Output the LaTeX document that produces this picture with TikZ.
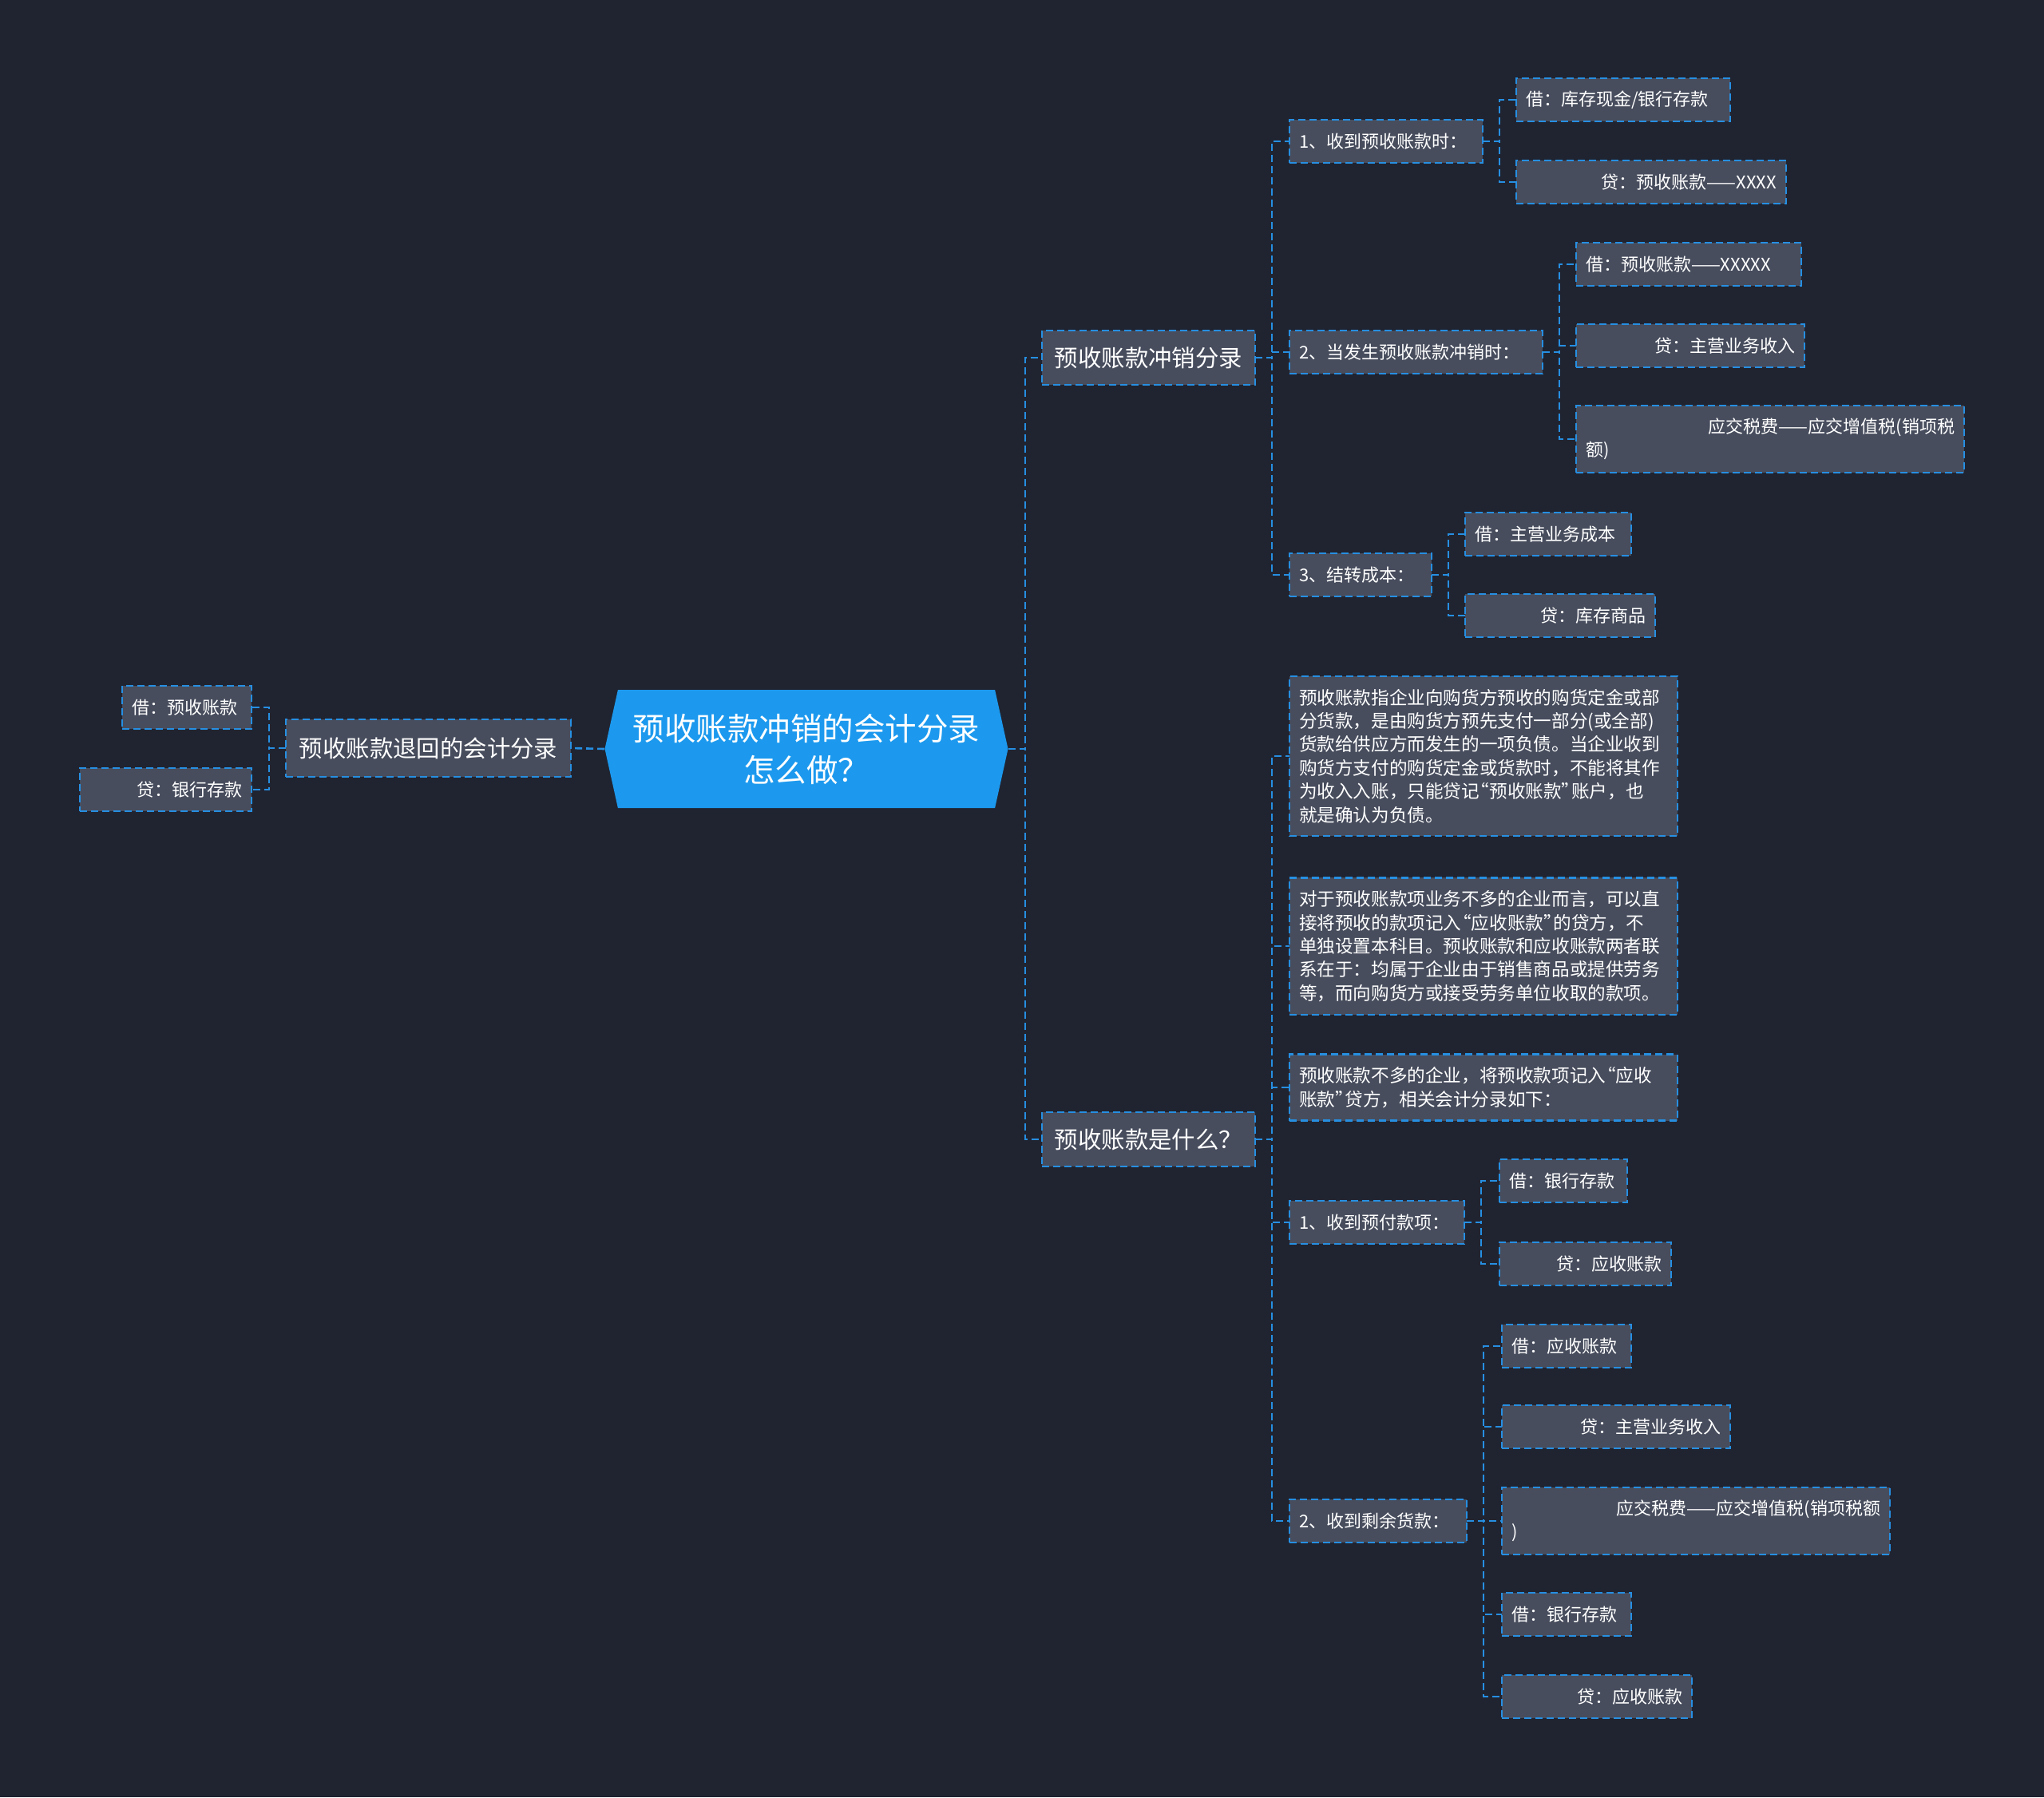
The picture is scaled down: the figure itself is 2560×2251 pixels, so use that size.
\documentclass[tikz,border=0pt]{standalone}
\usepackage{fontspec}
\setmainfont{Noto Sans CJK SC}
\usepackage{xcolor}
\definecolor{mapbg}{RGB}{32,36,49}
\definecolor{mapbox}{RGB}{71,77,93}
\definecolor{mapline}{RGB}{38,143,226}
\definecolor{mapmain}{RGB}{28,153,238}
\usepackage{tikz}
\usetikzlibrary{shapes.symbols}
% tight quote marks
\newcommand{\oq}{\kern-.45em“}
\newcommand{\cq}{”\kern-.45em}

\begin{document}
\begin{tikzpicture}[
  x=0.5pt, y=-0.5pt,
  mainnode/.style={signal, signal to=west and east, signal pointer angle=155,
                   fill=mapmain, text=white, minimum width=252.5pt, minimum height=74pt,
                   inner sep=0pt, align=center, font=\fontsize{19.75pt}{26pt}\selectfont},
  topic/.style={rectangle, draw=mapline, dash pattern=on 4.5pt off 2.5pt, line width=1.1pt,
                fill=mapbox, text=white, inner xsep=6pt, inner ysep=0pt, outer sep=0pt,
                minimum height=34pt, align=center, font=\fontsize{14.7pt}{18pt}\selectfont},
  leaf/.style={topic, minimum height=27pt, align=left, font=\fontsize{11pt}{14.7pt}\selectfont},
  credit/.style={leaf, align=right},
  para/.style={leaf, inner ysep=8pt, font=\fontsize{11.3pt}{14.7pt}\selectfont},
  link/.style={draw=mapline, dash pattern=on 4.5pt off 2.5pt, line width=1.3pt}
]
\fill[mapbg] (0,0) rectangle (2560,2251);

\node[mainnode] (main) at (1010,938) {预收账款冲销的会计分录\\怎么做？};

% left side
\node[topic, anchor=west, text width=166.5pt, minimum height=36pt] (ret) at (358,937) {预收账款退回的会计分录};
\node[leaf, anchor=east, text width=69pt] (retd) at (315,886) {借：预收账款};
\node[credit, anchor=east, text width=95.5pt] (retc) at (315,989) {贷：银行存款};

% right side
\node[topic, anchor=west, text width=121.5pt] (wo) at (1305,448) {预收账款冲销分录};
\node[topic, anchor=west, text width=121.5pt] (what) at (1305,1427) {预收账款是什么？};

\node[leaf, anchor=west, text width=109pt] (a1) at (1615,177) {1、收到预收账款时：};
\node[leaf, anchor=west, text width=146.5pt] (a2) at (1615,441) {2、当发生预收账款冲销时：};
\node[leaf, anchor=west, text width=77pt] (a3) at (1615,720) {3、结转成本：};

\node[leaf, anchor=west, text width=122pt] (a1d) at (1899,125) {借：库存现金/银行存款};
\node[credit, anchor=west, text width=157pt] (a1c) at (1899,228) {贷：预收账款——XXXX};
\node[leaf, anchor=west, text width=129pt] (a2d) at (1974,331) {借：预收账款——XXXXX};
\node[credit, anchor=west, text width=131pt] (a2c) at (1974,433) {贷：主营业务收入};
\node[leaf, anchor=west, text width=231pt, minimum height=42pt] (a2t) at (1974,550)
  {\hfill 应交税费——应交增值税(销项税\\额)};
\node[leaf, anchor=west, text width=92pt] (a3d) at (1835,669) {借：主营业务成本};
\node[credit, anchor=west, text width=107pt] (a3c) at (1835,771) {贷：库存商品};

\node[para, anchor=west, text width=231pt] (p1) at (1615,947)
  {预收账款指企业向购货方预收的购货定金或部\\分货款，是由购货方预先支付一部分(或全部)\\货款给供应方而发生的一项负债。当企业收到\\购货方支付的购货定金或货款时，不能将其作\\为收入入账，只能贷记\oq 预收账款\cq 账户，也\\就是确认为负债。};
\node[para, anchor=west, text width=231pt] (p2) at (1615,1185)
  {对于预收账款项业务不多的企业而言，可以直\\接将预收的款项记入\oq 应收账款\cq 的贷方，不\\单独设置本科目。预收账款和应收账款两者联\\系在于：均属于企业由于销售商品或提供劳务\\等，而向购货方或接受劳务单位收取的款项。};
\node[para, anchor=west, text width=231pt] (p3) at (1615,1362)
  {预收账款不多的企业，将预收款项记入\oq 应收\\账款\cq 贷方，相关会计分录如下：};
\node[leaf, anchor=west, text width=97.5pt] (b1) at (1615,1531) {1、收到预付款项：};
\node[leaf, anchor=west, text width=99pt] (b2) at (1615,1905) {2、收到剩余货款：};

\node[leaf, anchor=west, text width=68pt] (b1d) at (1878,1479) {借：银行存款};
\node[credit, anchor=west, text width=95.5pt] (b1c) at (1878,1583) {贷：应收账款};
\node[leaf, anchor=west, text width=69pt] (b2d1) at (1881,1686) {借：应收账款};
\node[credit, anchor=west, text width=131pt] (b2c1) at (1881,1787) {贷：主营业务收入};
\node[leaf, anchor=west, text width=231pt, minimum height=42pt] (b2t) at (1881,1905)
  {\hfill 应交税费——应交增值税(销项税额\\)};
\node[leaf, anchor=west, text width=69pt] (b2d2) at (1881,2022) {借：银行存款};
\node[credit, anchor=west, text width=107pt] (b2c2) at (1881,2125) {贷：应收账款};

% connectors
\draw[link] (main.west) -- (ret.east);
\draw[link] (ret.west) -- ++(-21,0) |- (retd.east);
\draw[link] (ret.west) -- ++(-21,0) |- (retc.east);

\draw[link] (main.east) -- ++(21,0) |- (wo.west);
\draw[link] (main.east) -- ++(21,0) |- (what.west);

\draw[link] (wo.east) -- ++(21,0) |- (a1.west);
\draw[link] (wo.east) -- ++(21,0) |- (a2.west);
\draw[link] (wo.east) -- ++(21,0) |- (a3.west);

\draw[link] (a1.east) -- ++(21,0) |- (a1d.west);
\draw[link] (a1.east) -- ++(21,0) |- (a1c.west);
\draw[link] (a2.east) -- ++(21,0) |- (a2d.west);
\draw[link] (a2.east) -- ++(21,0) |- (a2c.west);
\draw[link] (a2.east) -- ++(21,0) |- (a2t.west);
\draw[link] (a3.east) -- ++(21,0) |- (a3d.west);
\draw[link] (a3.east) -- ++(21,0) |- (a3c.west);

\draw[link] (what.east) -- ++(21,0) |- (p1.west);
\draw[link] (what.east) -- ++(21,0) |- (p2.west);
\draw[link] (what.east) -- ++(21,0) |- (p3.west);
\draw[link] (what.east) -- ++(21,0) |- (b1.west);
\draw[link] (what.east) -- ++(21,0) |- (b2.west);

\draw[link] (b1.east) -- ++(21,0) |- (b1d.west);
\draw[link] (b1.east) -- ++(21,0) |- (b1c.west);
\draw[link] (b2.east) -- ++(21,0) |- (b2d1.west);
\draw[link] (b2.east) -- ++(21,0) |- (b2c1.west);
\draw[link] (b2.east) -- ++(21,0) |- (b2t.west);
\draw[link] (b2.east) -- ++(21,0) |- (b2d2.west);
\draw[link] (b2.east) -- ++(21,0) |- (b2c2.west);
\end{tikzpicture}
\end{document}
